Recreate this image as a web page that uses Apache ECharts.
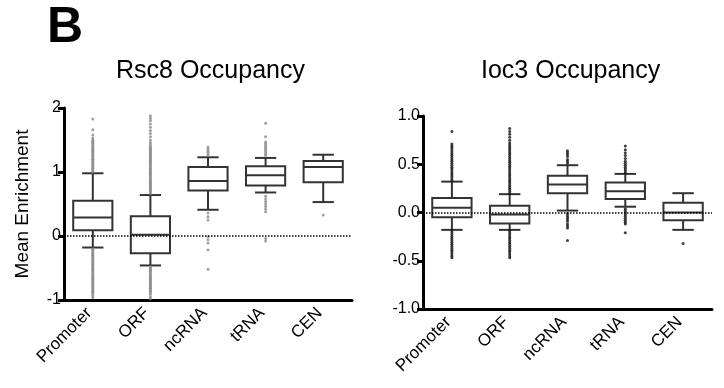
<!DOCTYPE html>
<html lang="en">
<head>
    <meta charset="UTF-8">
    <script src="https://cdn.jsdelivr.net/npm/echarts@6.0.0/dist/echarts.min.js"></script>
    <title>Occupancy</title>
</head>
<body style="margin:0;background:#fff;">
    <div id="chart" style="width: 724px;height:388px;"></div>
    <script>
        // categories
        var categories = ['Promoter', 'ORF', 'ncRNA', 'tRNA', 'CEN'];

        // Rsc8: [low whisker, Q1, median, Q3, high whisker]
        var rsc8Boxes = [
            [-0.18, 0.09, 0.29, 0.55, 0.98],
            [-0.46, -0.27, 0.02, 0.31, 0.64],
            [0.41, 0.71, 0.86, 1.08, 1.23],
            [0.68, 0.79, 0.95, 1.09, 1.22],
            [0.53, 0.84, 1.08, 1.17, 1.27]
        ];
        // Rsc8 outliers per category
        var rsc8Outliers = [
            [1.00, 1.02, 1.04, 1.06, 1.08, 1.10, 1.12, 1.14, 1.16, 1.18, 1.20, 1.22, 1.24, 1.26, 1.28, 1.30, 1.32, 1.34, 1.36, 1.38, 1.40, 1.42, 1.44, 1.46, 1.48, 1.50, 1.53, 1.58, 1.66, 1.83,
             -0.20, -0.22, -0.24, -0.26, -0.28, -0.30, -0.32, -0.34, -0.36, -0.38, -0.40, -0.42, -0.44, -0.46, -0.48, -0.50, -0.52, -0.54, -0.56, -0.58, -0.60, -0.62, -0.64, -0.66, -0.68, -0.70, -0.72, -0.74, -0.76, -0.78, -0.80, -0.82, -0.84, -0.86, -0.88, -0.90, -0.93, -0.96],
            [0.66, 0.68, 0.70, 0.72, 0.74, 0.76, 0.78, 0.80, 0.82, 0.84, 0.86, 0.88, 0.90, 0.92, 0.94, 0.96, 0.98, 1.00, 1.02, 1.04, 1.06, 1.08, 1.10, 1.12, 1.14, 1.16, 1.18, 1.20, 1.22, 1.24, 1.26, 1.28, 1.30, 1.32, 1.34, 1.36, 1.38, 1.40, 1.43, 1.46, 1.50, 1.55, 1.60, 1.65, 1.70, 1.75, 1.80, 1.84, 1.88,
             -0.48, -0.50, -0.52, -0.54, -0.56, -0.58, -0.60, -0.62, -0.64, -0.66, -0.68, -0.70, -0.72, -0.74, -0.76, -0.78, -0.80, -0.82, -0.84, -0.86, -0.88, -0.91, -0.95, -0.98],
            [1.27, 1.30, 1.33, 1.36, 1.39, 0.36, 0.30, 0.25, -0.01, -0.06, -0.11, -0.22, -0.52],
            [1.26, 1.29, 1.32, 1.35, 1.38, 1.41, 1.44, 1.47, 1.55, 1.76, 0.62, 0.58, 0.54, 0.50, 0.46, 0.42, 0.38, -0.04, -0.08],
            [0.33]
        ];

        // Ioc3: [low whisker, Q1, median, Q3, high whisker]
        var ioc3Boxes = [
            [-0.18, -0.05, 0.05, 0.15, 0.32],
            [-0.18, -0.115, -0.02, 0.07, 0.19],
            [0.02, 0.20, 0.29, 0.38, 0.49],
            [0.06, 0.14, 0.22, 0.31, 0.40],
            [-0.18, -0.08, 0.00, 0.10, 0.20]
        ];
        var ioc3Outliers = [
            [0.33, 0.35, 0.37, 0.39, 0.41, 0.43, 0.45, 0.47, 0.49, 0.51, 0.53, 0.55, 0.57, 0.59, 0.61, 0.63, 0.65, 0.67, 0.69, 0.71, 0.84,
             -0.19, -0.21, -0.23, -0.25, -0.27, -0.29, -0.31, -0.33, -0.35, -0.37, -0.39, -0.41, -0.43, -0.45, -0.47],
            [0.20, 0.22, 0.24, 0.26, 0.28, 0.30, 0.32, 0.34, 0.36, 0.38, 0.40, 0.42, 0.44, 0.46, 0.48, 0.50, 0.52, 0.54, 0.56, 0.58, 0.60, 0.62, 0.64, 0.66, 0.68, 0.70, 0.72, 0.75, 0.78, 0.81, 0.84, 0.87,
             -0.19, -0.21, -0.23, -0.25, -0.27, -0.29, -0.31, -0.33, -0.35, -0.37, -0.39, -0.41, -0.43, -0.45, -0.47],
            [0.51, 0.53, 0.55, 0.58, 0.60, 0.62, 0.64, -0.01, -0.03, -0.05, -0.07, -0.09, -0.12, -0.14, -0.16, -0.29],
            [0.41, 0.43, 0.45, 0.47, 0.49, 0.51, 0.53, 0.56, 0.59, 0.62, 0.65, 0.69, 0.04, 0.02, 0.00, -0.02, -0.04, -0.06, -0.08, -0.10, -0.12, -0.21],
            [-0.32]
        ];

        var rsc8Ticks = [-1, 0, 1, 2];
        var ioc3Ticks = [-1.0, -0.5, 0.0, 0.5, 1.0];

        var FONT = '"Liberation Sans", Arial, sans-serif';
        var chart = echarts.init(document.getElementById('chart'));

        function boxData(boxes) {
            var out = [];
            for (var i = 0; i < boxes.length; i++) {
                out.push([i].concat(boxes[i]));
            }
            return out;
        }

        function pointData(outliers) {
            var out = [];
            for (var i = 0; i < outliers.length; i++) {
                for (var j = 0; j < outliers[i].length; j++) {
                    out.push([i, outliers[i][j]]);
                }
            }
            return out;
        }

        // draws one box with half-width whisker caps
        function renderBox(params, api) {
            var x = api.value(0);
            var lo = api.coord([x, api.value(1)]);
            var q1 = api.coord([x, api.value(2)]);
            var md = api.coord([x, api.value(3)]);
            var q3 = api.coord([x, api.value(4)]);
            var hi = api.coord([x, api.value(5)]);
            var band = api.size([1, 0])[0];
            var bw = band * 0.68;
            var cw = band * 0.37;
            var cx = md[0];
            var st = { stroke: '#333', lineWidth: 2, fill: null };
            return {
                type: 'group',
                children: [
                    { type: 'line', shape: { x1: cx, y1: hi[1], x2: cx, y2: q3[1] }, style: st },
                    { type: 'line', shape: { x1: cx, y1: q1[1], x2: cx, y2: lo[1] }, style: st },
                    { type: 'line', shape: { x1: cx - cw / 2, y1: hi[1], x2: cx + cw / 2, y2: hi[1] }, style: st },
                    { type: 'line', shape: { x1: cx - cw / 2, y1: lo[1], x2: cx + cw / 2, y2: lo[1] }, style: st },
                    { type: 'rect', shape: { x: cx - bw / 2, y: q3[1], width: bw, height: q1[1] - q3[1] },
                      style: { stroke: '#333', lineWidth: 2, fill: '#fff' } },
                    { type: 'line', shape: { x1: cx - bw / 2, y1: md[1], x2: cx + bw / 2, y2: md[1] }, style: st }
                ]
            };
        }

        function makeX(idx) {
            return {
                type: 'category',
                gridIndex: idx,
                data: categories,
                boundaryGap: true,
                axisLine: { onZero: false, lineStyle: { color: '#000', width: 3 } },
                axisTick: { alignWithLabel: true, length: 6, lineStyle: { color: '#000', width: 3 } },
                axisLabel: { rotate: 45, margin: 7, padding: [0, 5, 0, 0], color: '#000', fontSize: 17, fontFamily: FONT }
            };
        }

        function makeY(idx, ticks, digits, name) {
            return {
                type: 'value',
                gridIndex: idx,
                min: ticks[0],
                max: ticks[ticks.length - 1],
                interval: ticks[1] - ticks[0],
                name: name,
                nameLocation: 'middle',
                nameGap: 32,
                nameTextStyle: { color: '#000', fontSize: 19, fontFamily: FONT },
                axisLine: { show: true, lineStyle: { color: '#000', width: 3 } },
                axisTick: { show: true, length: 6, lineStyle: { color: '#000', width: 3 } },
                axisLabel: {
                    margin: 3, color: '#000', fontSize: 16, fontFamily: FONT,
                    formatter: function (v) { return digits ? v.toFixed(digits) : String(Math.round(v)); }
                },
                splitLine: { show: false }
            };
        }

        var option = {
            animation: false,
            backgroundColor: '#fff',
            title: [
                { text: 'B', left: 42, top: -2, textStyle: { fontSize: 50, fontWeight: 'bold', color: '#000', fontFamily: FONT } },
                { text: 'Rsc8 Occupancy', left: 111, top: 54, textStyle: { fontSize: 25, fontWeight: 'normal', color: '#000', fontFamily: FONT } },
                { text: 'Ioc3 Occupancy', left: 476, top: 54, textStyle: { fontSize: 25, fontWeight: 'normal', color: '#000', fontFamily: FONT } }
            ],
            grid: [
                { left: 64, right: 372, top: 108, bottom: 88 },
                { left: 423, right: 12, top: 116, bottom: 79 }
            ],
            xAxis: [makeX(0), makeX(1)],
            yAxis: [makeY(0, rsc8Ticks, 0, 'Mean Enrichment'), makeY(1, ioc3Ticks, 1, '')],
            series: [
                {
                    type: 'scatter', xAxisIndex: 0, yAxisIndex: 0,
                    data: pointData(rsc8Outliers),
                    symbolSize: 3, itemStyle: { color: '#888' },
                    silent: true
                },
                {
                    type: 'custom', xAxisIndex: 0, yAxisIndex: 0,
                    data: boxData(rsc8Boxes),
                    renderItem: renderBox,
                    markLine: {
                        silent: true, symbol: 'none', label: { show: false },
                        lineStyle: { color: '#000', type: 'dotted', width: 1.5 },
                        data: [{ yAxis: 0 }]
                    }
                },
                {
                    type: 'scatter', xAxisIndex: 1, yAxisIndex: 1,
                    data: pointData(ioc3Outliers),
                    symbolSize: 3, itemStyle: { color: '#111' },
                    silent: true
                },
                {
                    type: 'custom', xAxisIndex: 1, yAxisIndex: 1,
                    data: boxData(ioc3Boxes),
                    renderItem: renderBox,
                    markLine: {
                        silent: true, symbol: 'none', label: { show: false },
                        lineStyle: { color: '#000', type: 'dotted', width: 1.5 },
                        data: [{ yAxis: 0 }]
                    }
                }
            ]
        };

        chart.setOption(option);
    </script>
</body>
</html>
